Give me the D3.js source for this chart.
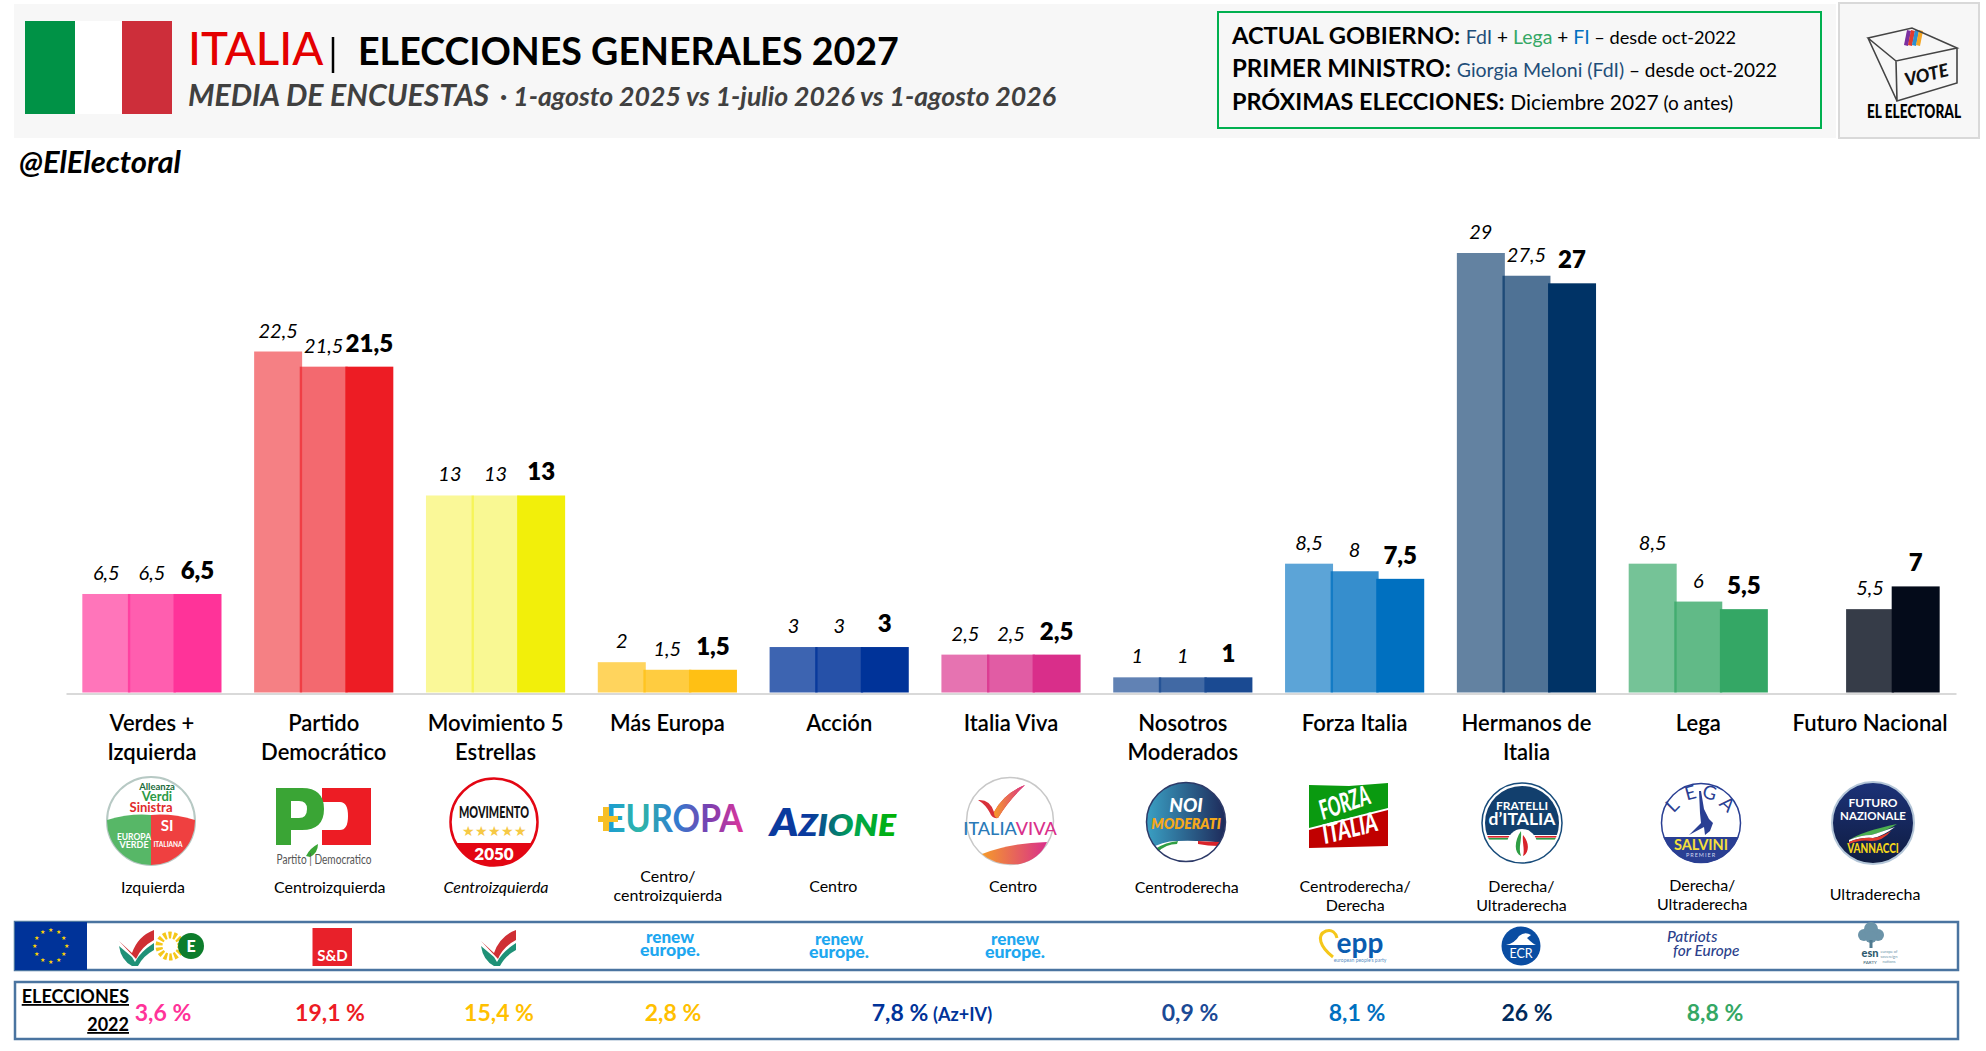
<!DOCTYPE html>
<html>
<head>
<meta charset="UTF-8">
<title>Italia - Elecciones generales 2027</title>
<style>
  html, body { margin: 0; padding: 0; background: #fff; }
  svg { display: block; }
  text { font-family: Lato, "Open Sans", sans-serif; }
</style>
</head>
<body>
<svg id="chart" width="1986" height="1051"></svg>
<script src="https://cdn.jsdelivr.net/npm/d3@7"></script>
<script>
// chart values
const parties = ["Verdes + Izquierda", "Partido Democrático", "Movimiento 5 Estrellas", "Más Europa", "Acción", "Italia Viva", "Nosotros Moderados", "Forza Italia", "Hermanos de Italia", "Lega", "Futuro Nacional"];
const partyLines = [["Verdes +", "Izquierda"], ["Partido", "Democrático"], ["Movimiento 5", "Estrellas"], ["Más Europa"], ["Acción"], ["Italia Viva"], ["Nosotros", "Moderados"], ["Forza Italia"], ["Hermanos de", "Italia"], ["Lega"], ["Futuro Nacional"]];
const polls = ["1-agosto 2025", "1-julio 2026", "1-agosto 2026"];
const agosto2025 = [6.5, 22.5, 13, 2, 3, 2.5, 1, 8.5, 29, 8.5, null];
const julio2026 = [6.5, 21.5, 13, 1.5, 3, 2.5, 1, 8, 27.5, 6, 5.5];
const agosto2026 = [6.5, 21.5, 13, 1.5, 3, 2.5, 1, 7.5, 27, 5.5, 7];
const ideology = [["Izquierda"], ["Centroizquierda"], ["Centroizquierda"], ["Centro/", "centroizquierda"], ["Centro"], ["Centro"], ["Centroderecha"], ["Centroderecha/", "Derecha"], ["Derecha/", "Ultraderecha"], ["Derecha/", "Ultraderecha"], ["Ultraderecha"]];
const elections2022 = ["3,6 %", "19,1 %", "15,4 %", "2,8 %", "7,8 %", "0,9 %", "8,1 %", "26 %", "8,8 %"];

// styles
const partyColors = ["#ff3399", "#ed1c24", "#f2ef0a", "#ffc014", "#003399", "#d92e8a", "#1a4a92", "#0070c0", "#003366", "#34a765", "#040b1a"];
const opacityFirst = [0.68, 0.56, 0.42, 0.69, 0.76, 0.67, 0.69, 0.64, 0.61, 0.68, 1];
const opacitySecond = [0.79, 0.66, 0.44, 0.81, 0.85, 0.78, 0.83, 0.79, 0.69, 0.78, 0.80];
const electionColors = ["#ff3399", "#ed1c24", "#ffc000", "#ffc000", "#003399", "#1b4a96", "#0070c0", "#002a5c", "#34a765"];
const electionX = [163, 330, 499, 673, 900, 1190, 1357, 1527, 1715];

const svg = d3.select("#chart");
const fmt = v => String(v).replace(".", ",");

// ---- scales
const x0 = d3.scaleBand().domain(parties).range([66, 1956]).paddingInner(0.19).paddingOuter(0.095);
const x1 = d3.scaleBand().domain(polls).range([0, x0.bandwidth() - 2.4]);
const y = d3.scaleLinear().domain([0, 29]).range([692.5, 253]);
const rows = parties.map((p, i) => ({ party: p, i: i, values: [agosto2025[i], julio2026[i], agosto2026[i]] }));

// ---- header
svg.append("rect").attr("x", 14).attr("y", 4).attr("width", 1822).attr("height", 134).attr("fill", "#f7f7f7");
svg.append("rect").attr("x", 25).attr("y", 21).attr("width", 50).attr("height", 93).attr("fill", "#009246");
svg.append("rect").attr("x", 75).attr("y", 21).attr("width", 47).attr("height", 93).attr("fill", "#ffffff");
svg.append("rect").attr("x", 122).attr("y", 21).attr("width", 50).attr("height", 93).attr("fill", "#cd2e3a");
svg.append("text").attr("x", 188).attr("y", 65).attr("font-size", 45.6).attr("font-weight", 500).attr("fill", "#e40000").text("ITALIA");
svg.append("line").attr("x1", 333).attr("x2", 333).attr("y1", 37).attr("y2", 73).attr("stroke", "#000").attr("stroke-width", 2.5);
svg.append("text").attr("x", 358).attr("y", 65).attr("font-size", 37.6).attr("font-weight", 700).attr("fill", "#000").text("ELECCIONES GENERALES 2027");
svg.append("text").attr("x", 188).attr("y", 106).attr("font-size", 30.2).attr("font-weight", 700).attr("font-style", "italic").attr("fill", "#404040").text("MEDIA DE ENCUESTAS");
svg.append("text").attr("x", 500).attr("y", 106).attr("font-size", 26.7).attr("font-weight", 700).attr("font-style", "italic").attr("fill", "#404040").text("· " + polls[0] + " vs " + polls[1] + " vs " + polls[2]);
svg.append("text").attr("x", 19).attr("y", 173).attr("font-size", 31).attr("font-weight", 700).attr("font-style", "italic").attr("fill", "#000").text("@ElElectoral");

// government box
svg.append("rect").attr("x", 1218).attr("y", 12).attr("width", 603).attr("height", 116).attr("fill", "#f7f7f7").attr("stroke", "#00b050").attr("stroke-width", 2);
const gov = [
  [44, [["ACTUAL GOBIERNO: ", 23.7, 700, "#000"], ["FdI", 19.5, 400, "#1f4e79"], [" + ", 19, 400, "#000"], ["Lega", 19.5, 400, "#34a765"], [" + ", 19, 400, "#000"], ["FI", 19.5, 400, "#0070c0"], [" – desde oct-2022", 18.2, 400, "#000"]]],
  [77, [["PRIMER MINISTRO: ", 24, 700, "#000"], ["Giorgia Meloni (FdI)", 19.5, 400, "#1f4e79"], [" – desde oct-2022", 19, 400, "#000"]]],
  [110, [["PRÓXIMAS ELECCIONES: ", 23.4, 700, "#000"], ["Diciembre 2027", 21, 400, "#000"], [" (o antes)", 19, 400, "#000"]]]
];
gov.forEach(line => {
  const t = svg.append("text").attr("x", 1232).attr("y", line[0]);
  line[1].forEach(s => t.append("tspan").attr("font-size", s[1]).attr("font-weight", s[2]).attr("fill", s[3]).attr("xml:space", "preserve").text(s[0]));
});

// ballot box logo
svg.append("rect").attr("x", 1839).attr("y", 3).attr("width", 140).attr("height", 135).attr("fill", "#f7f7f7").attr("stroke", "#d9d9d9").attr("stroke-width", 2);
const ballot = svg.append("g");
[["#7b2fa0", 1904], ["#e23b2e", 1908], ["#2e8fd0", 1912], ["#f5a623", 1916]].forEach(c => {
  ballot.append("path").attr("d", "M" + c[1] + " 45 l3 -15 l4 1 l-3 15 z").attr("fill", c[0]);
});
ballot.append("path").attr("d", "M1868 38 L1912 28 L1957 48 L1896 61 Z M1896 61 L1897 101 L1957 83 L1957 48 M1868 38 L1897 101")
  .attr("fill", "none").attr("stroke", "#444").attr("stroke-width", 1.6);
ballot.append("text").attr("transform", "translate(1928,81) rotate(-14)").attr("text-anchor", "middle").attr("font-size", 18).attr("font-weight", 900).attr("font-style", "italic").attr("fill", "#111").text("VOTE");
ballot.append("text").attr("transform", "translate(1914,118) scale(0.76,1)").attr("text-anchor", "middle").attr("font-size", 18).attr("font-weight", 900).attr("fill", "#000").text("EL ELECTORAL");

// ---- bars
const barWidth = x1.bandwidth() + 2.4;
const groups = svg.append("g").selectAll("g").data(rows).join("g")
  .attr("transform", d => "translate(" + x0(d.party) + ",0)");

groups.selectAll("rect").data(d => d.values.map((v, k) => ({ v: v, k: k, i: d.i })).filter(e => e.v !== null)).join("rect")
  .attr("x", e => x1(polls[e.k]))
  .attr("y", e => y(e.v))
  .attr("width", barWidth)
  .attr("height", e => y(0) - y(e.v))
  .attr("fill", e => partyColors[e.i])
  .attr("fill-opacity", e => [opacityFirst[e.i], opacitySecond[e.i], 1][e.k]);

groups.selectAll("text").data(d => d.values.map((v, k) => ({ v: v, k: k })).filter(e => e.v !== null)).join("text")
  .attr("x", e => x1(polls[e.k]) + barWidth / 2)
  .attr("y", e => y(e.v) - (e.k === 2 ? 15 : 14))
  .attr("text-anchor", "middle")
  .attr("fill", "#000")
  .each(function (e) {
    const s = d3.select(this);
    if (e.k === 2) s.attr("font-family", "Inter").attr("font-weight", 800).attr("font-size", 24);
    else s.attr("font-weight", 400).attr("font-style", "italic").attr("font-size", 20);
  })
  .text(e => fmt(e.v));

// ---- category axis
const axis = svg.append("g").attr("transform", "translate(0," + (y(0) + 1) + ")")
  .call(d3.axisBottom(x0).tickSize(0).tickPadding(0));
axis.select(".domain").attr("stroke", "#d9d9d9").attr("stroke-width", 2);
axis.selectAll(".tick text").each(function (d) {
  const t = d3.select(this).text(null).attr("y", 0).attr("dy", null)
    .attr("font-family", "Lato").attr("font-size", 22).attr("font-weight", 600).attr("fill", "#000");
  partyLines[parties.indexOf(d)].forEach((l, n) => {
    t.append("tspan").attr("x", 0).attr("y", 37 + n * 29).text(l);
  });
});

// ---- ideology labels (they sit a little off the band centre in the original)
const ideologyDx = [1, 6, 0.5, 0.5, -6, 2, 4, 0.5, -5, 4, 5];
const ideologyY = [893, 893, 893, 882, 892, 892, 893, 892, 892, 891, 900];
svg.append("g").selectAll("text").data(ideology).join("text")
  .attr("text-anchor", "middle")
  .attr("font-size", 16)
  .attr("fill", "#000")
  .attr("font-style", (d, i) => i === 2 ? "italic" : "normal")
  .each(function (d, i) {
    const t = d3.select(this);
    d.forEach((l, n) => t.append("tspan")
      .attr("x", x0(parties[i]) + x0.bandwidth() / 2 + ideologyDx[i])
      .attr("y", ideologyY[i] + n * 18.8).text(l));
  });

// ---- party logos
const defs = svg.append("defs");
function grad(id, stops, x2, y2) {
  const g = defs.append("linearGradient").attr("id", id).attr("x1", 0).attr("y1", 0).attr("x2", x2).attr("y2", y2);
  stops.forEach((c, i) => g.append("stop").attr("offset", i / (stops.length - 1)).attr("stop-color", c));
}
grad("gEuropa", ["#1a9ad6", "#2fb5a8", "#2f7fd0", "#7a3fb0", "#e0359a"], 1, 0);
grad("gNoi", ["#3aa0c4", "#1e2a5a"], 1, 0);
grad("gAz", ["#0a3a9e", "#0a3a9e", "#00a651", "#00b300"], 1, 0);
grad("gIv", ["#f59a2b", "#d9308a"], 1, 0);
grad("gFn", ["#1c3278", "#0f1c40"], 0, 1);

function logo(cx, cy) { return svg.append("g").attr("transform", "translate(" + cx + "," + cy + ")"); }
function label(g, txt, x, yy, size, fill, weight, style) {
  return g.append("text").attr("x", x).attr("y", yy).attr("text-anchor", "middle").attr("font-size", size)
    .attr("fill", fill).attr("font-weight", weight || 700).attr("font-style", style || "normal").text(txt);
}
function clipCircle(id, r) {
  defs.append("clipPath").attr("id", id).append("circle").attr("r", r);
}

// Verdes + Izquierda
let g = logo(151, 821);
clipCircle("cAvs", 44);
g.append("circle").attr("r", 44).attr("fill", "#fff").attr("stroke", "#b7c9c4").attr("stroke-width", 2);
const avs = g.append("g").attr("clip-path", "url(#cAvs)");
avs.append("path").attr("d", "M-44 -1 Q-20 -8 0 -6 V44 H-44 Z").attr("fill", "#57b767");
avs.append("path").attr("d", "M0 -6 Q20 -8 44 -1 V44 H0 Z").attr("fill", "#ef4040");
label(g, "Alleanza", 6, -31, 9.5, "#1b6b3a");
label(g, "Verdi", 6, -20, 13, "#2c9a45");
label(g, "Sinistra", 0, -9.5, 13, "#e02b2b");
label(g, "EUROPA", -17, 19, 8.5, "#fff");
label(g, "VERDE", -17, 27, 9, "#fff");
label(g, "SI", 16, 10, 15, "#fff");
label(g, "ITALIANA", 17, 26, 6.5, "#fff");

// PD
g = logo(276, 788);
g.append("path").attr("d", "M46 0 H95 V57 H46 V42 H64 Q72 42 72 28 Q72 14 64 14 H46 Z").attr("fill", "#ed1c24");
g.append("path").attr("fill-rule", "evenodd").attr("d", "M0 0 H26 Q48 0 48 21 Q48 42 26 42 H15 V57 H0 Z M15 13 V30 H23 Q31 30 31 21 Q31 13 23 13 Z").attr("fill", "#3aa535");
g.append("path").attr("d", "M30 68 Q34 60 42 56 Q42 65 34 69 Z").attr("fill", "#3aa535");
label(g, "Partito | Democratico", 48, 76, 12.5, "#555", 400).attr("textLength", 95).attr("lengthAdjust", "spacingAndGlyphs");

// M5S
g = logo(494, 822);
clipCircle("cM5", 44);
g.append("circle").attr("r", 44).attr("fill", "#fff");
g.append("g").attr("clip-path", "url(#cM5)").append("rect").attr("x", -44).attr("y", 21).attr("width", 88).attr("height", 25).attr("fill", "#e30613");
g.append("circle").attr("r", 43.5).attr("fill", "none").attr("stroke", "#e30613").attr("stroke-width", 2.5);
g.append("text").attr("transform", "translate(0,-4) scale(0.68,1)").attr("text-anchor", "middle").attr("font-size", 16).attr("font-weight", 900).attr("fill", "#111").text("MOVIMENTO");
label(g, "★★★★★", 0, 14, 14, "#f6c945", 400);
label(g, "2050", 0, 38, 17, "#fff", 800);

// +Europa
g = logo(606, 832);
g.append("text").attr("font-size", 38).attr("font-weight", 700).attr("fill", "url(#gEuropa)").attr("textLength", 137).attr("lengthAdjust", "spacingAndGlyphs").text("EUROPA");
g.append("path").attr("d", "M-3 -25 H3 V-16 H12 V-10 H3 V-1 H-3 V-10 H-8 V-16 H-3 Z").attr("fill", "#f7bf26");

// Azione
g = logo(770, 836);
const azText = g.append("text").attr("font-family", "Inter").attr("font-weight", 800).attr("font-style", "italic").attr("fill", "url(#gAz)").attr("textLength", 126).attr("lengthAdjust", "spacingAndGlyphs");
azText.append("tspan").attr("font-size", 38).text("A");
azText.append("tspan").attr("font-size", 30).text("ZIONE");

// Italia Viva
g = logo(1010, 821);
clipCircle("cIv", 43.5);
g.append("circle").attr("r", 43.5).attr("fill", "#fff").attr("stroke", "#c8c8c8").attr("stroke-width", 1.5);
g.append("path").attr("d", "M-32 -21 Q-20 -22 -16 -9 Q-6 -28 15 -36 Q-2 -20 -12 -3 Q-18 -2 -20 -8 Q-24 -16 -32 -21 Z").attr("fill", "#d8303a");
g.append("path").attr("d", "M-16 -9 Q-6 -28 15 -36 Q-2 -20 -12 -3 Q-16 -3 -16 -9 Z").attr("fill", "url(#gIv)");
g.append("path").attr("d", "M-28 33 Q0 22 37 21 Q30 38 10 43 Q-15 45 -28 33 Z").attr("fill", "url(#gIv)");
const ivText = g.append("text").attr("x", 0).attr("y", 13.5).attr("text-anchor", "middle").attr("font-size", 18).attr("font-weight", 500);
ivText.append("tspan").attr("fill", "#2a7ab8").text("ITALIA");
ivText.append("tspan").attr("fill", "#d9308a").text("VIVA");

// Noi Moderati
g = logo(1186, 822);
clipCircle("cNm", 39.5);
g.append("circle").attr("r", 39.5).attr("fill", "url(#gNoi)");
const nm = g.append("g").attr("clip-path", "url(#cNm)");
nm.append("path").attr("d", "M-40 28 Q-20 18 -8 19 Q10 18 40 21 V45 H-40 Z").attr("fill", "#fff");
nm.append("path").attr("d", "M-31 27 Q-20 20 -8 19 L-9 22 Q-20 22 -28 30 Z").attr("fill", "#2f9e44");
nm.append("path").attr("d", "M12 19 Q24 20 36 20 L32 24 Q22 24 12 22 Z").attr("fill", "#d8232a");
g.append("circle").attr("r", 39.5).attr("fill", "none").attr("stroke", "#2d3a68").attr("stroke-width", 1.5);
g.append("text").attr("y", -10).attr("text-anchor", "middle").attr("font-family", "Inter").attr("font-size", 19).attr("font-weight", 900).attr("font-style", "italic").attr("fill", "#fff").text("NOI");
g.append("text").attr("y", 7).attr("text-anchor", "middle").attr("font-family", "Inter").attr("font-size", 14).attr("font-weight", 800).attr("font-style", "italic").attr("fill", "#f5a81c").text("MODERATI");

// Forza Italia
g = logo(1309, 783);
g.append("path").attr("d", "M0 2 L40 3 L79 0 V25 L0 45 Z").attr("fill", "#0a9a10");
g.append("path").attr("d", "M0 47 L79 27 V63 L40 64 L0 65 Z").attr("fill", "#c00000");
g.append("text").attr("transform", "translate(14,37) rotate(-19) scale(0.62,1)").attr("font-size", 27).attr("font-weight", 900).attr("font-style", "italic").attr("fill", "#fff").text("FORZA");
g.append("text").attr("transform", "translate(16,61) rotate(-14) scale(0.72,1)").attr("font-size", 27).attr("font-weight", 900).attr("font-style", "italic").attr("fill", "#fff").text("ITALIA");

// Fratelli d'Italia
g = logo(1522, 823);
clipCircle("cFdi", 37);
g.append("circle").attr("r", 40).attr("fill", "#fff").attr("stroke", "#174b7a").attr("stroke-width", 1.5);
const fdi = g.append("g").attr("clip-path", "url(#cFdi)");
fdi.append("rect").attr("x", -40).attr("y", -40).attr("width", 80).attr("height", 52).attr("fill", "#123f6d");
fdi.append("rect").attr("x", -40).attr("y", 13).attr("width", 80).attr("height", 1.6).attr("fill", "#d8232a");
fdi.append("rect").attr("x", -40).attr("y", 15).attr("width", 80).attr("height", 1.6).attr("fill", "#2f9e44");
g.append("circle").attr("cy", 21).attr("r", 15).attr("fill", "#fff");
g.append("path").attr("d", "M-1 8 C-8 18 -8 30 -1 33 C-4 24 0 18 -1 8 Z").attr("fill", "#2f9e44");
g.append("path").attr("d", "M1 12 C8 20 7 30 1 33 C3 26 0 20 1 12 Z").attr("fill", "#d8232a");
label(g, "FRATELLI", 0, -13, 12, "#fff", 700);
label(g, "d’ITALIA", 0, 2, 17.5, "#fff", 700);

// Lega
g = logo(1701, 823);
clipCircle("cLega", 40);
g.append("circle").attr("r", 40).attr("fill", "#fff");
g.append("g").attr("clip-path", "url(#cLega)").append("rect").attr("x", -40).attr("y", 14).attr("width", 80).attr("height", 28).attr("fill", "#2a3f93");
g.append("circle").attr("r", 39.5).attr("fill", "none").attr("stroke", "#2a3f93").attr("stroke-width", 1.5);
g.append("path").attr("d", "M-12 12 L0 0 L-1 -10 L-2 -32 L0 -32 L3 -14 L8 -4 L12 0 L9 8 L4 12 L3 4 Z").attr("fill", "#2a3f93");
[["L", -24, -13, -45], ["E", -9, -24, -15], ["G", 7, -24, 15], ["A", 22, -14, 42]].forEach(c => {
  g.append("text").attr("transform", "translate(" + c[1] + "," + c[2] + ") rotate(" + c[3] + ")").attr("text-anchor", "middle").attr("font-size", 19).attr("font-weight", 400).attr("fill", "#2a3f93").text(c[0]);
});
g.append("text").attr("y", 26.5).attr("text-anchor", "middle").attr("font-family", "Liberation Sans").attr("font-size", 14.5).attr("font-weight", 700).attr("fill", "#f5e03a").text("SALVINI");
g.append("text").attr("y", 33.5).attr("text-anchor", "middle").attr("font-size", 5.5).attr("letter-spacing", 1).attr("fill", "#cfd6ee").text("PREMIER");

// Futuro Nazionale
g = logo(1873, 823);
g.append("circle").attr("r", 41).attr("fill", "url(#gFn)").attr("stroke", "#b4c6d8").attr("stroke-width", 2);
label(g, "FUTURO", 0, -16, 12, "#fff", 700);
label(g, "NAZIONALE", 0, -3.5, 11.5, "#fff", 700);
g.append("path").attr("d", "M-24 17 Q-10 8 24 1 Q14 8 -2 12 Q-12 12 -24 17 Z").attr("fill", "#4caf50");
g.append("path").attr("d", "M-24 17 Q-12 12 -2 12 Q8 9 22 4 Q10 13 0 15 Q-12 14 -24 19 Z").attr("fill", "#fff");
g.append("path").attr("d", "M-24 19 Q-12 14 0 15 Q8 14 18 8 Q10 18 -2 18 Q-12 16 -24 21 Z").attr("fill", "#e23b2e");
g.append("text").attr("transform", "translate(0,30) scale(0.8,1)").attr("text-anchor", "middle").attr("font-size", 12.5).attr("font-weight", 900).attr("fill", "#f5d61a").text("VANNACCI");

// ---- European group row
svg.append("rect").attr("x", 15).attr("y", 922).attr("width", 1943).attr("height", 48).attr("fill", "#fff").attr("stroke", "#4a74a0").attr("stroke-width", 2.5);
svg.append("rect").attr("x", 15).attr("y", 922).attr("width", 72).attr("height", 48).attr("fill", "#003399");
svg.append("g").selectAll("text").data(d3.range(12)).join("text")
  .attr("x", d => 50 + 16 * Math.sin(d * Math.PI / 6))
  .attr("y", d => 948 - 16 * Math.cos(d * Math.PI / 6))
  .attr("text-anchor", "middle").attr("font-size", 6).attr("fill", "#ffd400").text("★");

function tick(cx, cy) {
  const t = logo(cx, cy);
  t.append("path").attr("d", "M-17 -5 L-4 7 Q2 -10 18 -16 L18 -6 Q5 1 0 13 Z").attr("fill", "#cf2f34");
  t.append("path").attr("d", "M-17 0 L-4 11 L-1 16 Q4 6 18 -3 L18 4 Q7 10 2 20 L-4 20 Q-15 14 -17 0 Z").attr("fill", "#1f9177");
}
tick(136, 946);
g = logo(170, 946);
g.append("circle").attr("r", 11).attr("fill", "none").attr("stroke", "#f5c71a").attr("stroke-width", 7).attr("stroke-dasharray", "3 2");
g.append("circle").attr("r", 5).attr("fill", "#fff");
g = logo(191, 946);
g.append("circle").attr("r", 13).attr("fill", "#0d7d2c");
label(g, "E", 0, 6, 16, "#fff", 900);
g = logo(312.5, 928);
g.append("rect").attr("width", 39.5).attr("height", 38).attr("fill", "#e8212a");
label(g, "S&D", 20, 33, 15, "#fff", 700);
tick(498, 946);

const renewX = [670, 839, 1015];
const renewY = [943, 945, 945];
renewX.forEach((rx, i) => {
  label(svg, "renew", rx, renewY[i], 16, "#1ea7f0", 900).attr("textLength", 48).attr("lengthAdjust", "spacingAndGlyphs");
  label(svg, "europe.", rx, renewY[i] + 13, 16, "#1ea7f0", 900).attr("textLength", 60).attr("lengthAdjust", "spacingAndGlyphs");
});

g = logo(1336, 935);
g.append("path").attr("d", "M-3 22 C-16 12 -20 0 -10 -4 C-4 -6 0 -2 1 3").attr("fill", "none").attr("stroke", "#f5c71a").attr("stroke-width", 3);
label(g, "epp", 24, 18, 28, "#0a5cb0", 700);
label(g, "european people's party", 24, 27, 5, "#5a8fc4", 400);

g = logo(1521, 946);
g.append("circle").attr("r", 19.5).attr("fill", "#0a4da2");
g.append("path").attr("d", "M-15 -1 Q-6 -3 -2 -10 Q4 -15 10 -11 L6 -8 Q12 -2 15 -1 Z").attr("fill", "#fff");
label(g, "ECR", 0, 12, 12.5, "#fff", 400);

svg.append("text").attr("x", 1667).attr("y", 942).attr("font-size", 15.5).attr("font-style", "italic").attr("fill", "#2b3f8c").attr("font-weight", 500).text("Patriots");
svg.append("text").attr("x", 1673).attr("y", 955.5).attr("font-size", 15.5).attr("font-style", "italic").attr("fill", "#2b3f8c").attr("font-weight", 500).text("for Europe");

g = logo(1871, 936);
[[-7, -1, 6], [7, -1, 6], [0, -7, 7], [0, 1, 6]].forEach(c => {
  g.append("circle").attr("cx", c[0]).attr("cy", c[1]).attr("r", c[2]).attr("fill", "#6b93a8");
});
g.append("rect").attr("x", -1.5).attr("y", 4).attr("width", 3).attr("height", 8).attr("fill", "#4f7a90");
label(g, "esn", -1, 21, 11, "#2d5a6e", 900);
label(g, "PARTY", -1, 28, 4.5, "#2d5a6e", 400);
label(g, "europe of", 18, 17, 4, "#6b93a8", 400);
label(g, "sovereign", 18, 22, 4, "#6b93a8", 400);
label(g, "nations", 18, 27, 4, "#6b93a8", 400);

// ---- 2022 election row
svg.append("rect").attr("x", 15).attr("y", 982).attr("width", 1943).attr("height", 57).attr("fill", "#fff").attr("stroke", "#4a74a0").attr("stroke-width", 2.5);
svg.append("text").attr("x", 129).attr("y", 1003).attr("text-anchor", "end").attr("font-size", 18).attr("font-weight", 700).attr("fill", "#000").attr("text-decoration", "underline").text("ELECCIONES");
svg.append("text").attr("x", 129).attr("y", 1031).attr("text-anchor", "end").attr("font-size", 18).attr("font-weight", 700).attr("fill", "#000").attr("text-decoration", "underline").text("2022");
svg.append("g").selectAll("text").data(elections2022).join("text")
  .attr("x", (d, i) => electionX[i])
  .attr("y", 1021)
  .attr("text-anchor", "middle")
  .attr("font-size", 23)
  .attr("font-weight", 700)
  .attr("fill", (d, i) => electionColors[i])
  .text(d => d);
svg.append("text").attr("x", 933).attr("y", 1021).attr("font-size", 18).attr("font-weight", 700).attr("fill", "#003399").text("(Az+IV)");
</script>
</body>
</html>
